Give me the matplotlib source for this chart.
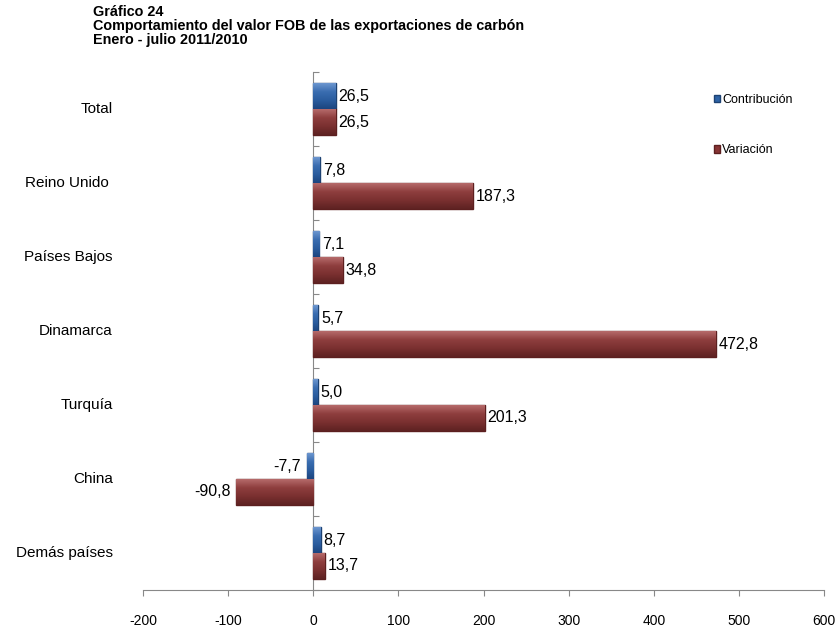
import numpy as np
import matplotlib
matplotlib.use("Agg")
import matplotlib.pyplot as plt
from matplotlib.colors import LinearSegmentedColormap

plt.rcParams['font.family'] = ['Liberation Sans', 'DejaVu Sans']

categorias = ['Total', 'Reino Unido ', 'Países Bajos', 'Dinamarca', 'Turquía', 'China', 'Demás países']
contribucion = [26.5, 7.8, 7.1, 5.7, 5.0, -7.7, 8.7]
variacion = [26.5, 187.3, 34.8, 472.8, 201.3, -90.8, 13.7]
xticks = [-200, -100, 0, 100, 200, 300, 400, 500, 600]

azul, azul_borde = '#2E63A6', '#1D4272'
rojo, rojo_borde = '#873434', '#5C1F1F'
grad_azul = LinearSegmentedColormap.from_list('ga', ['#6C96CF', '#3A6DB0', '#2A5C9E', '#1C457F'])
grad_rojo = LinearSegmentedColormap.from_list('gr', ['#B56A6A', '#8E3E3E', '#7A3030', '#5E2222'])

fig = plt.figure(figsize=(8.36, 6.27), dpi=100)
ax = fig.add_axes([0.171, 0.059, 0.815, 0.826])

y = np.arange(len(categorias))
h = 0.35
b1 = ax.barh(y - h / 2, contribucion, height=h, color=azul, edgecolor=azul_borde,
             linewidth=1, label='Contribución')
b2 = ax.barh(y + h / 2, variacion, height=h, color=rojo, edgecolor=rojo_borde,
             linewidth=1, label='Variación')

# efecto de relieve
grad = np.linspace(0, 1, 64).reshape(-1, 1)
for barras, cmap in [(b1, grad_azul), (b2, grad_rojo)]:
    for rect in barras:
        x0, w = rect.get_x(), rect.get_width()
        y0, hh = rect.get_y(), rect.get_height()
        im = ax.imshow(grad, cmap=cmap, aspect='auto', origin='upper',
                       extent=(x0, x0 + w, y0 + hh, y0), zorder=2.5)
        im.set_clip_path(rect)

def etiquetas(barras, valores):
    for rect, v in zip(barras, valores):
        yc = rect.get_y() + rect.get_height() / 2
        txt = f"{v:.1f}".replace('.', ',')
        if v >= 0:
            ax.annotate(txt, (v, yc), xytext=(2, 0), textcoords='offset points',
                        ha='left', va='center', fontsize=11.5)
        else:
            ax.annotate(txt, (v, yc), xytext=(-4, 0), textcoords='offset points',
                        ha='right', va='center', fontsize=11.5)

etiquetas(b1, contribucion)
etiquetas(b2, variacion)

ax.set_xlim(-200, 600)
ax.set_ylim(6.5, -0.5)
ax.set_xticks(xticks)
ax.set_xticklabels([str(t) for t in xticks], fontsize=10)
ax.tick_params(axis='x', length=4, color='#888888', pad=13)

ax.set_yticks(y)
ax.set_yticklabels([])
ax.tick_params(axis='y', length=0)
for yi, cat in zip(y, categorias):
    ax.text(-0.044, yi, cat, transform=ax.get_yaxis_transform(), ha='right',
            va='center', fontsize=11)

for s in ['top', 'right', 'left']:
    ax.spines[s].set_visible(False)
ax.spines['bottom'].set_color('#888888')

# eje vertical en cero con marcas entre categorias
sec = ax.secondary_yaxis(0.25)
sec.set_yticks(np.arange(-0.5, 7, 1))
sec.set_yticklabels([])
sec.tick_params(direction='in', length=4, color='#888888')
sec.spines['left'].set_color('#888888')

ax.legend(loc='upper left', bbox_to_anchor=(0.821, 0.98), frameon=False,
          fontsize=9, handlelength=0.55, handleheight=0.55, handletextpad=0.15,
          labelspacing=3.1)

fig.text(93 / 836, 1 - 5 / 627,
         'Gráfico 24\nComportamiento del valor FOB de las exportaciones de carbón\nEnero - julio 2011/2010',
         ha='left', va='top', fontsize=10.4, fontweight='bold', linespacing=1.0)

fig.savefig('out.png', dpi=100)
